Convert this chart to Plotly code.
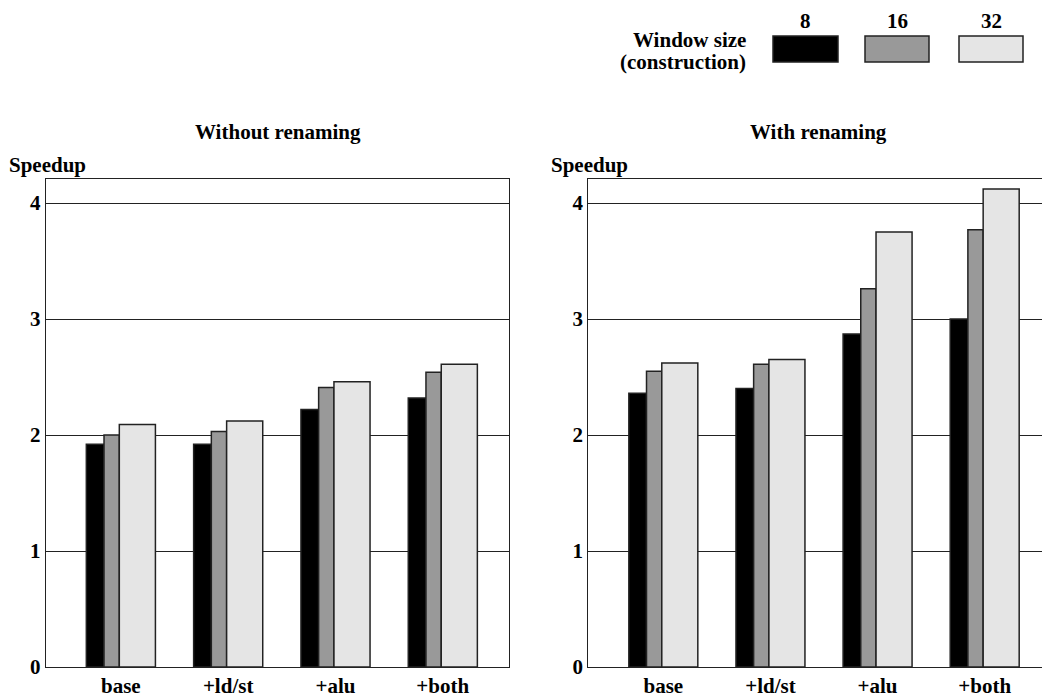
import plotly.graph_objects as go

categories = ["base", "+ld/st", "+alu", "+both"]
window_sizes = ["8", "16", "32"]

# speedup, without renaming
no_rename_8 = [1.92, 1.92, 2.22, 2.32]
no_rename_16 = [2.00, 2.03, 2.41, 2.54]
no_rename_32 = [2.09, 2.12, 2.46, 2.61]

# speedup, with renaming
rename_8 = [2.36, 2.40, 2.87, 3.00]
rename_16 = [2.55, 2.61, 3.26, 3.77]
rename_32 = [2.62, 2.65, 3.75, 4.12]

colors = ["#000000", "#999999", "#e5e5e5"]
offsets = [-0.3215, -0.1566, -0.014]
widths = [0.165, 0.1426, 0.3364]
font = dict(family="Liberation Serif", size=21, color="#000000", weight="bold")

# page body has an 8px margin, so the figure is drawn 8px in from the corner
PAD = 8
W, H = 1050 - PAD, 698 - PAD


def px(x, y):
    # window pixel -> paper coords
    return (x - PAD) / W, (H - (y - PAD)) / H


fig = go.Figure()

panels = [("x", "y", [no_rename_8, no_rename_16, no_rename_32]),
          ("x2", "y2", [rename_8, rename_16, rename_32])]
for xa, ya, series in panels:
    for i, vals in enumerate(series):
        fig.add_trace(go.Bar(
            x=categories, y=vals, xaxis=xa, yaxis=ya,
            name=window_sizes[i], offset=offsets[i], width=widths[i],
            marker=dict(color=colors[i], line=dict(color="#222222", width=1.5)),
            showlegend=False))

ydom = [px(0, 667)[1], px(0, 179)[1]]
axis_common = dict(showline=True, linecolor="#222222", linewidth=1.2, ticks="",
                   automargin=False, tickfont=font)
fig.update_layout(
    width=W, height=H, barmode="overlay", font=font,
    margin=dict(l=0, r=0, t=0, b=0),
    plot_bgcolor="white", paper_bgcolor="white",
    xaxis=dict(domain=[px(45.7, 0)[0], px(509.3, 0)[0]], range=[-0.70, 3.62], mirror=True,
               type="category", showgrid=False, **axis_common),
    yaxis=dict(domain=ydom, range=[0, 4.207], tickvals=[0, 1, 2, 3, 4], mirror=True,
               showgrid=True, gridcolor="#222222", gridwidth=1, zeroline=False,
               **axis_common),
    xaxis2=dict(domain=[px(588.3, 0)[0], 1.0], range=[-0.70, 3.61], mirror=True,
                type="category", showgrid=False, anchor="y2", **axis_common),
    yaxis2=dict(domain=ydom, range=[0, 4.207], tickvals=[0, 1, 2, 3, 4], mirror=False,
                showgrid=True, gridcolor="#222222", gridwidth=1, zeroline=False,
                anchor="x2", **axis_common),
)

annots = [
    ("Without renaming", 277.5, 132, "center"),
    ("With renaming", 818, 132, "center"),
    ("Speedup", 7, 165, "left"),
    ("Speedup", 549, 165, "left"),
    ("Window size", 748, 40, "right"),
    ("(construction)", 748, 62, "right"),
]
for text, x, y, anchor in annots:
    ax, ay = px(x, y)
    fig.add_annotation(text=text, x=ax, y=ay, xref="paper", yref="paper",
                       xanchor=anchor, yanchor="middle", showarrow=False, font=font)

# legend swatches
boxes = [(773, 838), (865, 929), (959, 1023)]
for (x0, x1), c, lab in zip(boxes, colors, window_sizes):
    bx0, by0 = px(x0, 62)
    bx1, by1 = px(x1, 36)
    fig.add_shape(type="rect", xref="paper", yref="paper", x0=bx0, x1=bx1, y0=by0, y1=by1,
                  fillcolor=c, line=dict(color="#222222", width=1.5))
    lx, ly = px((x0 + x1) / 2, PAD)
    fig.add_annotation(text=lab, x=lx, y=ly, xref="paper", yref="paper",
                       xanchor="center", yanchor="top", showarrow=False, font=font,
                       borderpad=0)

fig.write_html("out.html")
